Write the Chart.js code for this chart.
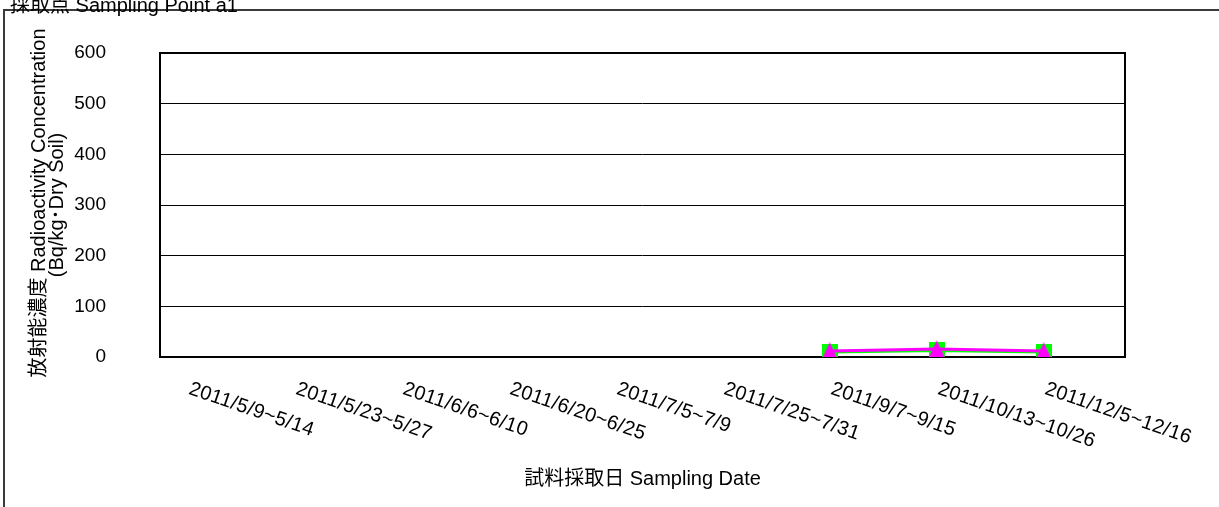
<!DOCTYPE html>
<html>
<head>
<meta charset="utf-8">
<script src="https://cdn.jsdelivr.net/npm/chart.js@4.4.0/dist/chart.umd.min.js"></script>
<style>
  html, body { margin: 0; padding: 0; background: #fff; overflow: hidden; }
  canvas { display: block; }
</style>
</head>
<body>
<canvas id="chart" width="1219" height="507"></canvas>
<script>
// sampling periods (category labels)
const dateLabels = [
  '2011/5/9~5/14', '2011/5/23~5/27', '2011/6/6~6/10', '2011/6/20~6/25',
  '2011/7/5~7/9', '2011/7/25~7/31', '2011/9/7~9/15', '2011/10/13~10/26',
  '2011/12/5~12/16'
];
const cs134 = [null, null, null, null, null, null, 10, 13, 10];
const cs137 = [null, null, null, null, null, null, 12, 16, 12];
const yTicks = [0, 100, 200, 300, 400, 500, 600];

const FONT = '"Liberation Sans", "Noto Sans CJK JP", sans-serif';

function toPoints(arr) {
  const pts = [];
  arr.forEach((v, i) => { if (v !== null) pts.push({ x: i, y: v }); });
  return pts;
}

// marker images centred on their bounding box (like Excel markers)
function squareMarker(size, color) {
  const c = document.createElement('canvas');
  c.width = size; c.height = size;
  const g = c.getContext('2d');
  g.fillStyle = color;
  g.fillRect(0, 0, size, size);
  return c;
}
function triangleMarker(w, h, color) {
  const c = document.createElement('canvas');
  c.width = w; c.height = h;
  const g = c.getContext('2d');
  g.fillStyle = color;
  g.beginPath();
  g.moveTo(w / 2, 0);
  g.lineTo(w, h);
  g.lineTo(0, h);
  g.closePath();
  g.fill();
  return c;
}

const decorations = {
  id: 'decorations',
  beforeDatasetsDraw(chart) {
    const ctx = chart.ctx;
    const area = chart.chartArea;
    const xs = chart.scales.x;

    ctx.save();
    // outer frame
    ctx.strokeStyle = '#3a3a3a';
    ctx.lineWidth = 2;
    ctx.beginPath();
    ctx.moveTo(4, 520);
    ctx.lineTo(4, 10);
    ctx.lineTo(1230, 10);
    ctx.stroke();

    // title (cut at the top like the original)
    ctx.fillStyle = '#000';
    ctx.font = '20px ' + FONT;
    ctx.textAlign = 'left';
    ctx.textBaseline = 'alphabetic';
    ctx.fillText('採取点 Sampling Point a1', 10, 12);

    // plot border
    ctx.strokeStyle = '#000';
    ctx.lineWidth = 2;
    ctx.strokeRect(area.left, area.top, area.right - area.left, area.bottom - area.top);

    // rotated category labels
    ctx.font = '20px ' + FONT;
    ctx.letterSpacing = '0.3px';
    ctx.textAlign = 'left';
    ctx.textBaseline = 'top';
    dateLabels.forEach((lab, i) => {
      const px = xs.getPixelForValue(i);
      ctx.save();
      ctx.translate(px + 5, 379);
      ctx.rotate(19 * Math.PI / 180);
      ctx.fillText(lab, 0, 0);
      ctx.restore();
    });
    ctx.letterSpacing = '0px';

    // x axis title
    ctx.font = '20px ' + FONT;
    ctx.textAlign = 'center';
    ctx.textBaseline = 'middle';
    ctx.fillText('試料採取日 Sampling Date', (area.left + area.right) / 2, 479);

    // y axis title, two lines
    const cy = (area.top + area.bottom) / 2;
    ctx.save();
    ctx.translate(39, cy - 2);
    ctx.rotate(-Math.PI / 2);
    ctx.fillText('放射能濃度 Radioactivity Concentration', 0, 0);
    ctx.restore();
    ctx.save();
    ctx.translate(57, cy);
    ctx.rotate(-Math.PI / 2);
    ctx.fillText('(Bq/kg･Dry Soil)', 0, 0);
    ctx.restore();

    ctx.restore();
  }
};

new Chart(document.getElementById('chart'), {
  type: 'line',
  data: {
    datasets: [
      {
        label: 'Cs-137',
        data: toPoints(cs137),
        borderColor: '#FF00FF',
        backgroundColor: '#FF00FF',
        borderWidth: 3,
        pointStyle: triangleMarker(16, 17, '#FF00FF'),
        pointRadius: 8,
        tension: 0
      },
      {
        label: 'Cs-134',
        data: toPoints(cs134),
        borderColor: '#00FF00',
        backgroundColor: '#00FF00',
        borderWidth: 3,
        pointStyle: squareMarker(16, '#00FF00'),
        pointRadius: 8,
        tension: 0
      }
    ]
  },
  options: {
    responsive: false,
    animation: false,
    events: [],
    layout: { padding: { left: 0, top: 53, right: 94, bottom: 150 } },
    plugins: {
      legend: { display: false },
      tooltip: { enabled: false }
    },
    scales: {
      x: {
        type: 'linear',
        display: false,
        min: -0.26,
        max: 8.76
      },
      y: {
        min: 0,
        max: 600,
        afterBuildTicks(scale) {
          scale.ticks = yTicks.map(v => ({ value: v }));
        },
        afterFit(scale) {
          scale.width = 160;
          // tick padding would otherwise push the plot area down
          scale.paddingTop = 0;
          scale.paddingBottom = 0;
        },
        border: { display: false },
        grid: { color: '#000', lineWidth: 1, drawTicks: false },
        ticks: {
          padding: 54,
          color: '#000',
          font: { family: FONT, size: 19 }
        }
      }
    }
  },
  plugins: [decorations]
});
</script>
</body>
</html>
